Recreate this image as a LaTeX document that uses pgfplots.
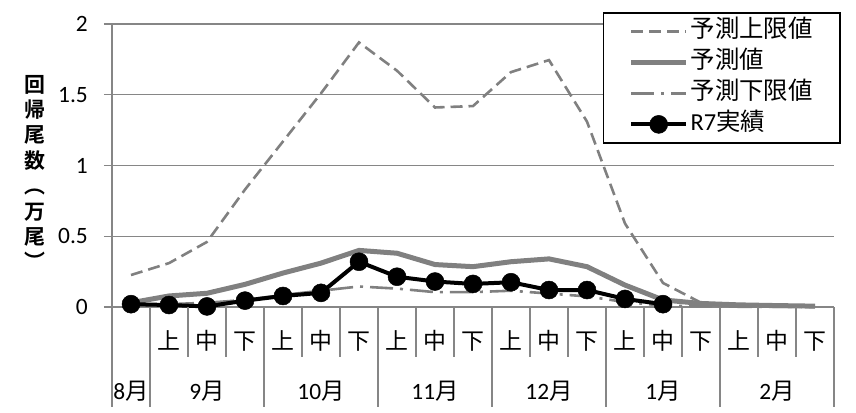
\documentclass[border=0pt]{standalone}
\usepackage{fontspec}
\setmainfont{Carlito}
\newfontfamily\jp{Noto Sans CJK JP}[BoldFont={Noto Sans CJK JP Bold}]
\usepackage{pgfplots}
\pgfplotsset{compat=1.18}
\definecolor{axgray}{RGB}{134,134,134}
\definecolor{sgray}{RGB}{128,128,128}
\begin{document}
\begin{tikzpicture}
\useasboundingbox (-112bp,-106bp) rectangle (744bp,307bp);
\begin{axis}[
  at={(0,0)}, anchor=south west,
  scale only axis, width=722bp, height=283bp,
  xmin=-0.5, xmax=18.5, ymin=0, ymax=2,
  clip=false,
  axis x line*=bottom, axis y line*=left,
  axis line style={axgray, line width=1.5bp, -},
  ytick={0,0.5,1,1.5,2},
  ymajorgrids, grid style={axgray, line width=1.5bp},
  tick align=outside, major tick length=8bp,
  y tick style={axgray, line width=1.5bp},
  x tick style={draw=none},
  /pgf/number format/assume math mode=true,
  yticklabel style={font=\fontsize{23.5}{24}\selectfont, anchor=east, inner sep=0pt, xshift=-16bp},
  xtick={0,...,18},
  xticklabels={,上,中,下,上,中,下,上,中,下,上,中,下,上,中,下,上,中,下},
  xticklabel style={font=\jp\fontsize{23}{24}\selectfont, anchor=base, inner sep=0pt, yshift=-34bp},
  legend style={at={(0.680,1.042)}, anchor=north west, draw=black, line width=1.5bp, fill=white,
    font=\jp\fontsize{24.5}{28}\selectfont, inner xsep=25bp, inner ysep=3bp,
    nodes={inner xsep=2bp, inner ysep=2bp, text height=20bp, text depth=7bp},
    cells={anchor=west}},
  legend image code/.code={\draw[#1, mark repeat=2, mark phase=2] plot coordinates {(0bp,0bp) (27.5bp,0bp) (55bp,0bp)};},
]
\addplot[sgray, line width=2.6bp, dash pattern=on 12bp off 6bp] table {
x y
0 0.226
1 0.31
2 0.46
3 0.83
4 1.17
5 1.51
6 1.87
7 1.67
8 1.41
9 1.42
10 1.66
11 1.745
12 1.31
13 0.59
14 0.17
15 0.03
16 0.015
17 0.008
18 0.004
};
\addlegendentry{予測上限値}
\addplot[sgray, line width=5bp, line join=round] table {
x y
0 0.03
1 0.078
2 0.097
3 0.16
4 0.24
5 0.31
6 0.40
7 0.38
8 0.30
9 0.285
10 0.32
11 0.34
12 0.285
13 0.155
14 0.05
15 0.025
16 0.015
17 0.01
18 0.006
};
\addlegendentry{予測値}
\addplot[sgray, line width=2.6bp, dash pattern=on 23bp off 7bp on 3bp off 7bp] table {
x y
0 0.01
1 0.02
2 0.03
3 0.05
4 0.085
5 0.115
6 0.145
7 0.13
8 0.105
9 0.105
10 0.115
11 0.095
12 0.075
13 0.035
14 0.01
15 0.005
16 0.002
17 0.001
18 0.0
};
\addlegendentry{予測下限値}
\addplot[black, line width=4bp, line join=round, mark=*, mark size=9bp, mark options={solid, fill=black, line width=0.5bp}] table {
x y
0 0.02
1 0.014
2 0.004
3 0.045
4 0.078
5 0.10
6 0.32
7 0.214
8 0.18
9 0.163
10 0.175
11 0.12
12 0.12
13 0.057
14 0.02
};
\addlegendentry{{\rmfamily R7}実績}
% category separators
\draw[axgray, line width=1.5bp] (axis cs:1.5,0) -- ++(0pt,-50bp);
\draw[axgray, line width=1.5bp] (axis cs:2.5,0) -- ++(0pt,-50bp);
\draw[axgray, line width=1.5bp] (axis cs:4.5,0) -- ++(0pt,-50bp);
\draw[axgray, line width=1.5bp] (axis cs:5.5,0) -- ++(0pt,-50bp);
\draw[axgray, line width=1.5bp] (axis cs:7.5,0) -- ++(0pt,-50bp);
\draw[axgray, line width=1.5bp] (axis cs:8.5,0) -- ++(0pt,-50bp);
\draw[axgray, line width=1.5bp] (axis cs:10.5,0) -- ++(0pt,-50bp);
\draw[axgray, line width=1.5bp] (axis cs:11.5,0) -- ++(0pt,-50bp);
\draw[axgray, line width=1.5bp] (axis cs:13.5,0) -- ++(0pt,-50bp);
\draw[axgray, line width=1.5bp] (axis cs:14.5,0) -- ++(0pt,-50bp);
\draw[axgray, line width=1.5bp] (axis cs:16.5,0) -- ++(0pt,-50bp);
\draw[axgray, line width=1.5bp] (axis cs:17.5,0) -- ++(0pt,-50bp);
\draw[axgray, line width=1.5bp] (axis cs:-0.5,0) -- ++(0pt,-100bp);
\draw[axgray, line width=1.5bp] (axis cs:0.5,0) -- ++(0pt,-100bp);
\draw[axgray, line width=1.5bp] (axis cs:3.5,0) -- ++(0pt,-100bp);
\draw[axgray, line width=1.5bp] (axis cs:6.5,0) -- ++(0pt,-100bp);
\draw[axgray, line width=1.5bp] (axis cs:9.5,0) -- ++(0pt,-100bp);
\draw[axgray, line width=1.5bp] (axis cs:12.5,0) -- ++(0pt,-100bp);
\draw[axgray, line width=1.5bp] (axis cs:15.5,0) -- ++(0pt,-100bp);
\draw[axgray, line width=1.5bp] (axis cs:18.5,0) -- ++(0pt,-100bp);
% month labels
\node[anchor=base, inner sep=0pt, font=\fontsize{23.5}{24}\selectfont, yshift=-92bp] at (axis cs:0,0) {8{\jp 月}};
\node[anchor=base, inner sep=0pt, font=\fontsize{23.5}{24}\selectfont, yshift=-92bp] at (axis cs:2,0) {9{\jp 月}};
\node[anchor=base, inner sep=0pt, font=\fontsize{23.5}{24}\selectfont, yshift=-92bp] at (axis cs:5,0) {10{\jp 月}};
\node[anchor=base, inner sep=0pt, font=\fontsize{23.5}{24}\selectfont, yshift=-92bp] at (axis cs:8,0) {11{\jp 月}};
\node[anchor=base, inner sep=0pt, font=\fontsize{23.5}{24}\selectfont, yshift=-92bp] at (axis cs:11,0) {12{\jp 月}};
\node[anchor=base, inner sep=0pt, font=\fontsize{23.5}{24}\selectfont, yshift=-92bp] at (axis cs:14,0) {1{\jp 月}};
\node[anchor=base, inner sep=0pt, font=\fontsize{23.5}{24}\selectfont, yshift=-92bp] at (axis cs:17,0) {2{\jp 月}};
\node[font=\jp\bfseries\fontsize{21}{25.5}\selectfont, align=center, inner sep=0pt, xshift=-77bp, yshift=134.5bp] at (rel axis cs:0,0) {回\\帰\\尾\\数\\︵\\万\\尾\\︶};
\end{axis}
\end{tikzpicture}
\end{document}
